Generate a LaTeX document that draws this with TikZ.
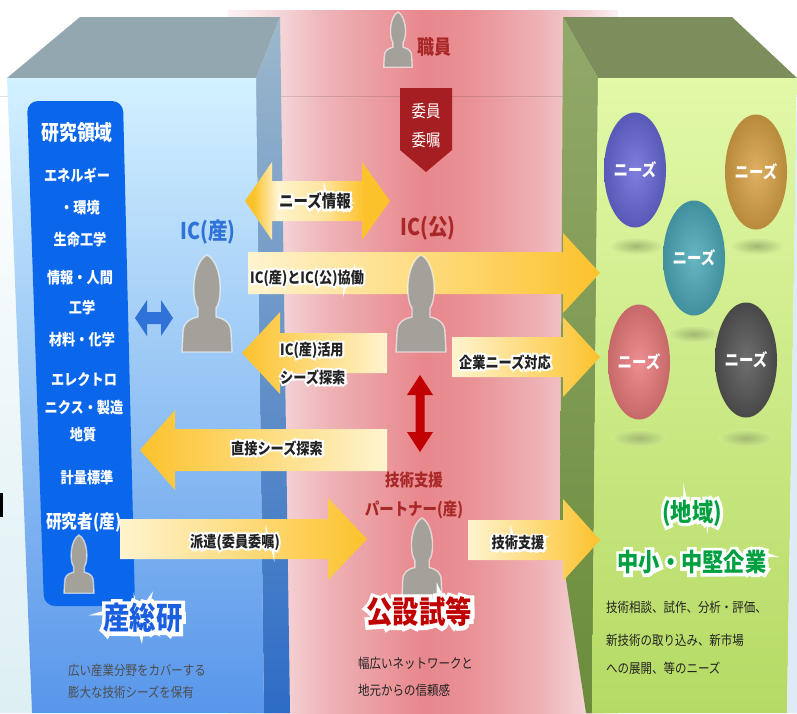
\documentclass[tikz,border=0pt]{standalone}
\usepackage{fontspec}
\usetikzlibrary{shapes.geometric}

\newfontfamily\jp[FakeStretch=0.85]{Noto Sans CJK JP}
\newfontfamily\jpglow[FakeStretch=0.85, FakeBold=25]{Noto Sans CJK JP}
% white halo under a label
\newcommand\glow[1]{\leavevmode\rlap{\jpglow\color{white}#1}#1}

\definecolor{skyleft}{HTML}{DDEFF3}
\definecolor{skyright}{HTML}{DCEBF6}
\definecolor{pinkA}{HTML}{FCF2F3}
\definecolor{pinkB}{HTML}{F4D3D6}
\definecolor{pinkC}{HTML}{EEB2B6}
\definecolor{pinkD}{HTML}{E8878C}
\definecolor{pinkE}{HTML}{E99196}
\definecolor{aisttop}{HTML}{93A7B1}
\definecolor{aistfront1}{HTML}{D3F1FF}
\definecolor{aistfront2}{HTML}{A3CEF7}
\definecolor{aistfront3}{HTML}{5896EA}
\definecolor{aistside1}{HTML}{9DB8CB}
\definecolor{aistside2}{HTML}{2D6CC6}
\definecolor{fieldblue}{HTML}{0A66EA}
\definecolor{aistblue}{HTML}{1A5FE0}
\definecolor{icblue}{HTML}{2F72D8}
\definecolor{smetop}{HTML}{7C8E5B}
\definecolor{smeside1}{HTML}{93A96A}
\definecolor{smeside2}{HTML}{6A8C3B}
\definecolor{greenhi}{HTML}{E2F9A8}
\definecolor{greenmid}{HTML}{CFEF8E}
\definecolor{greenlo}{HTML}{B5DA64}
\definecolor{smegreen}{HTML}{00A040}
\definecolor{shadowolive}{HTML}{A3B872}
\definecolor{kodark}{HTML}{A82828}
\definecolor{koseal}{HTML}{A51E22}
\definecolor{kored}{HTML}{C00000}
\definecolor{arrowyel}{HTML}{FCC22C}
\definecolor{arrowpale}{HTML}{FFF4CF}
\definecolor{personfill}{HTML}{A3A19A}
\definecolor{inkdark}{HTML}{222222}
\definecolor{inkgray}{HTML}{4D4D4D}
\definecolor{ballviolet}{HTML}{6868D8}
\definecolor{ballamber}{HTML}{D9A245}
\definecolor{ballteal}{HTML}{4CA9B9}
\definecolor{ballrose}{HTML}{EA7A7C}
\definecolor{ballgraphite}{HTML}{555555}

% pink band behind the three columns
\pgfdeclarehorizontalshading{pinkband}{100bp}{color(0bp)=(pinkA); color(25bp)=(pinkA);
  color(32bp)=(pinkB); color(38bp)=(pinkC); color(50bp)=(pinkD); color(56bp)=(pinkE);
  color(65bp)=(pinkC); color(71bp)=(pinkB); color(75bp)=(pinkA); color(100bp)=(pinkA)}
\pgfdeclarehorizontalshading{twoway}{100bp}{color(0bp)=(arrowyel); color(28bp)=(arrowyel);
  color(36bp)=(arrowpale); color(52bp)=(arrowpale!70!arrowyel); color(66bp)=(arrowyel);
  color(100bp)=(arrowyel)}

% block arrow: [shade], tail x, head base x, tip x, mid y, half shaft, half head
\newcommand\blockarrow[7][]{%
  \shade[#1] (#2,#5-#6) -- (#3,#5-#6) -- (#3,#5-#7) -- (#4,#5)
    -- (#3,#5+#7) -- (#3,#5+#6) -- (#2,#5+#6) -- cycle;}

\begin{document}
\begin{tikzpicture}[x=1pt, y=-1pt,
    toright/.style={left color=arrowpale, middle color=arrowyel!55!arrowpale, right color=arrowyel},
    toleft/.style={left color=arrowyel, middle color=arrowyel!55!arrowpale, right color=arrowpale},
    field/.style={font=\jp\bfseries\fontsize{15.5}{18}\selectfont, text=white, inner sep=0pt},
    tag/.style={font=\jp\bfseries\fontsize{15.5}{18}\selectfont, text=inkdark, inner sep=0pt},
    title/.style={font=\jp\bfseries\fontsize{31}{34}\selectfont, inner sep=0pt},
    note/.style={font=\jp\fontsize{13.5}{16}\selectfont, inner sep=0pt, anchor=west},
    need/.style={ellipse, minimum width=62pt, minimum height=115pt, inner sep=0pt,
      font=\jp\bfseries\fontsize{17}{19}\selectfont, text=white},
    person/.pic={
      \fill[personfill, draw=white, draw opacity=0.6, line width=1.4pt]
        (-9,62) -- (-9,53) .. controls (-16,44) and (-15,8) .. (0,0)
        .. controls (15,8) and (16,44) .. (9,53) -- (9,62)
        .. controls (19,64) and (24,69) .. (24,78) -- (25,97) -- (-25,97) -- (-24,78)
        .. controls (-24,69) and (-19,64) .. (-9,62) -- cycle;
    }]
  \fill[white] (0,0) rectangle (797,713);
  \useasboundingbox (0,0) rectangle (797,713);
  \shade[top color=white, bottom color=skyleft] (0,78) -- (7,78) -- (32,713) -- (0,713) -- cycle;
  \fill[black] (0,493) rectangle (3,517);

  % centre band
  \shade[shading=pinkband] (228,10) rectangle (618,713);
  \draw[black, opacity=0.12, line width=0.8pt] (0,96) -- (797,96);

  % left column
  \fill[aisttop] (7,78) -- (80,17) -- (280,17) -- (256,78) -- cycle;
  \shade[top color=aistside1, bottom color=aistside2] (256,78) -- (280,17) -- (290,713) -- (264,713) -- cycle;
  \shade[top color=aistfront1, middle color=aistfront2, bottom color=aistfront3]
    (7,78) -- (256,78) -- (264,713) -- (32,713) -- cycle;
  \fill[fieldblue, rounded corners=11pt] (27,101) -- (123,101) -- (135,606) -- (44,606) -- cycle;

  % right column
  \fill[smetop] (563,17) -- (732,17) -- (797,78) -- (598,78) -- cycle;
  \shade[top color=smeside1, bottom color=smeside2]
    (563,17) -- (598,78) -- (592,713) -- (586,713) -- (560,540) -- cycle;
  \shade[top color=greenhi, middle color=greenmid, bottom color=greenlo]
    (598,78) -- (797,78) -- (787,713) -- (592,713) -- cycle;
  \fill[skyright] (797,78) -- (797,713) -- (787,713) -- cycle;

  % needs
  \shade[inner color=shadowolive, outer color=greenmid!53!greenhi] (636,246) ellipse (28 and 9);
  \shade[inner color=shadowolive, outer color=greenmid!53!greenhi] (757,246) ellipse (28 and 9);
  \shade[inner color=shadowolive, outer color=greenmid!80!greenhi] (694,334) ellipse (28 and 9);
  \shade[inner color=shadowolive, outer color=greenlo!13!greenmid] (639,438) ellipse (28 and 9);
  \shade[inner color=shadowolive, outer color=greenlo!13!greenmid] (746,438) ellipse (28 and 9);
  \node[need, inner color=ballviolet!85!white, outer color=ballviolet!85!black] (need1) at (635,170) {ニーズ};
  \node[need, inner color=ballamber!85!white, outer color=ballamber!85!black] (need2) at (756,172) {ニーズ};
  \node[need, inner color=ballteal!85!white, outer color=ballteal!85!black] (need3) at (694,258) {ニーズ};
  \node[need, inner color=ballrose!85!white, outer color=ballrose!85!black] (need4) at (639,362) {ニーズ};
  \node[need, inner color=ballgraphite!85!white, outer color=ballgraphite!85!black] (need5) at (746,360) {ニーズ};

  % flows
  \shade[shading=twoway] (245,201) -- (272,162) -- (272,181) -- (362,181) -- (362,162) -- (390,201)
    -- (362,240) -- (362,221) -- (272,221) -- (272,240) -- cycle;
  \blockarrow[toright]{248}{563}{600}{273}{21}{40}
  \blockarrow[toleft]{387}{280}{242}{353}{20}{41}
  \blockarrow[toright]{452}{563}{600}{357}{20}{40}
  \blockarrow[toleft]{387}{175}{140}{450}{21}{40}
  \blockarrow[toright]{120}{328}{367}{539}{20}{41}
  \blockarrow[toright]{468}{563}{600}{540}{20}{41}
  \fill[icblue] (135,318) -- (147,300) -- (147,312) -- (161,312) -- (161,300) -- (173,318)
    -- (161,336) -- (161,324) -- (147,324) -- (147,336) -- cycle;
  \fill[kored] (420,375) -- (433,395) -- (424.5,395) -- (424.5,432) -- (433,432) -- (420,452)
    -- (407,432) -- (415.5,432) -- (415.5,395) -- (407,395) -- cycle;

  % commission tag
  \fill[koseal] (400,88) -- (452,88) -- (452,150) -- (426,172) -- (400,150) -- cycle;
  \node[font=\jp\fontsize{17}{19}\selectfont, text=white, inner sep=0pt] (seal1) at (426,111) {委員};
  \node[font=\jp\fontsize{17}{19}\selectfont, text=white, inner sep=0pt] (seal2) at (426,140) {委嘱};

  % people
  \pic[scale=0.57] (staff) at (398,12) {person};
  \pic (icsan) at (207,255) {person};
  \pic (icko) at (421,255) {person};
  \pic[scale=0.8] (partner) at (422,518) {person};
  \pic[scale=0.6] (researcher) at (79,535) {person};

  % research fields
  \node[field, font=\jp\bfseries\fontsize{21}{24}\selectfont] (fieldhead) at (77,133) {研究領域};
  \node[field] (energy) at (77,175) {エネルギー};
  \node[field] (env) at (80,208) {・環境};
  \node[field] (bio) at (80,240) {生命工学};
  \node[field] (info) at (80,278) {情報・人間};
  \node[field] (infoeng) at (82,308) {工学};
  \node[field] (matl) at (82,340) {材料・化学};
  \node[field] (elec) at (84,380) {エレクトロ};
  \node[field] (manuf) at (84,408) {ニクス・製造};
  \node[field] (geo) at (83,435) {地質};
  \node[field] (metro) at (87,478) {計量標準};
  \node[field, font=\jp\bfseries\fontsize{18.5}{21}\selectfont] (resname) at (84,522) {研究者(産)};

  % labels on flows
  \node[tag, font=\jp\bfseries\fontsize{17}{19}\selectfont] (needinfo) at (315,201) {\glow{ニーズ情報}};
  \node[tag, anchor=west] (collab) at (250,278) {\glow{IC(産)とIC(公)協働}};
  \node[tag, anchor=west] (seeduse) at (280,350) {\glow{IC(産)活用}};
  \node[tag, anchor=west] (seeduse2) at (280,377) {\glow{シーズ探索}};
  \node[tag] (corpneed) at (505,362) {\glow{企業ニーズ対応}};
  \node[tag] (direct) at (277,448) {\glow{直接シーズ探索}};
  \node[tag] (dispatch) at (235,542) {\glow{派遣(委員委嘱)}};
  \node[tag] (support) at (518,543) {\glow{技術支援}};

  % names
  \node[font=\jp\bfseries\fontsize{23}{26}\selectfont, text=icblue, inner sep=0pt] (icsanname) at (208,232) {IC(産)};
  \node[font=\jp\bfseries\fontsize{23}{26}\selectfont, text=kodark, inner sep=0pt] (iconame) at (428,228) {IC(公)};
  \node[font=\jp\bfseries\fontsize{20}{22}\selectfont, text=kodark, inner sep=0pt] (staffname) at (434,47) {職員};
  \node[font=\jp\bfseries\fontsize{17}{19}\selectfont, text=kodark, inner sep=0pt] (partner1) at (414,480) {技術支援};
  \node[font=\jp\bfseries\fontsize{17}{19}\selectfont, text=kodark, inner sep=0pt] (partner2) at (414,510) {パートナー(産)};

  % organisations
  \node[title, text=aistblue] (aist) at (143,618) {\glow{産総研}};
  \node[note, text=inkgray] (aistnote1) at (68,670) {広い産業分野をカバーする};
  \node[note, text=inkgray] (aistnote2) at (68,692) {膨大な技術シーズを保有};
  \node[title, text=kored] (kosetsu) at (419,612) {\glow{公設試等}};
  \node[note, text=inkdark] (konote1) at (358,663) {幅広いネットワークと};
  \node[note, text=inkdark] (konote2) at (358,690) {地元からの信頼感};
  \node[title, font=\jp\bfseries\fontsize{25}{28}\selectfont, text=smegreen] (region) at (692,513) {\glow{(地域)}};
  \node[title, font=\jp\bfseries\fontsize{25}{28}\selectfont, text=smegreen] (sme) at (692,562) {\glow{中小・中堅企業}};
  \node[note, text=inkdark] (smenote1) at (606,607) {技術相談、試作、分析・評価、};
  \node[note, text=inkdark] (smenote2) at (606,640) {新技術の取り込み、新市場};
  \node[note, text=inkdark] (smenote3) at (606,668) {への展開、等のニーズ};
\end{tikzpicture}
\end{document}
